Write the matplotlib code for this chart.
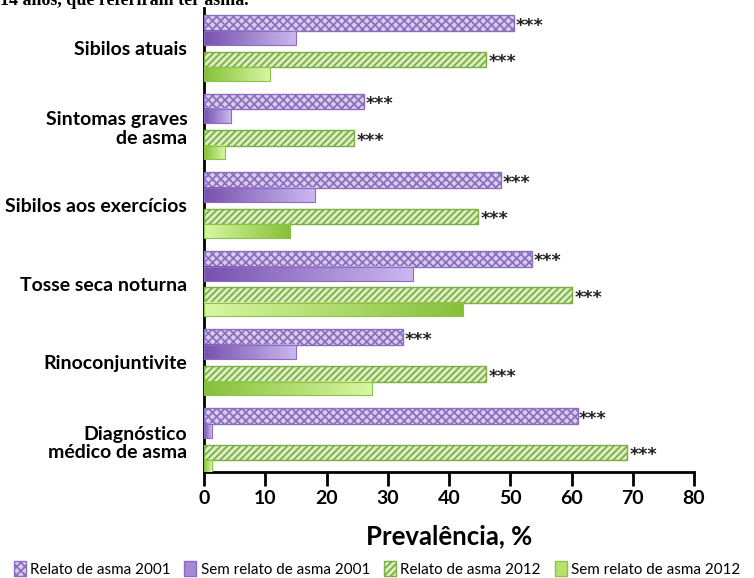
import matplotlib
matplotlib.use('Agg')
import matplotlib.pyplot as plt
import numpy as np
from matplotlib.colors import LinearSegmentedColormap
from matplotlib.patches import Patch

# ---- data ----
categories = ["Sibilos atuais", "Sintomas graves\nde asma", "Sibilos aos exercícios",
              "Tosse seca noturna", "Rinoconjuntivite", "Diagnóstico\nmédico de asma"]
relato_2001 = [50.6, 26.1, 48.5, 53.6, 32.5, 61.0]
sem_relato_2001 = [15.1, 4.4, 18.1, 34.2, 15.1, 1.3]
relato_2012 = [46.0, 24.5, 44.7, 60.1, 46.0, 69.0]
sem_relato_2012 = [10.8, 3.4, 14.0, 42.3, 27.4, 1.3]
sig_2001 = ["***"] * 6
sig_2012 = ["***"] * 6
x_ticks = [0, 10, 20, 30, 40, 50, 60, 70, 80]
series_labels = ["Relato de asma 2001", "Sem relato de asma 2001",
                 "Relato de asma 2012", "Sem relato de asma 2012"]
x_label = "Prevalência, %"
title_text = "14 anos, que referiram ter asma."

# ---- style ----
plt.rcParams['hatch.linewidth'] = 1.3
font = 'Lato'
purple_fill = '#d9cdee'
purple_hatch = '#8d70bd'
green_fill = '#dcefc2'
green_hatch = '#7dad45'
purple_cmap = LinearSegmentedColormap.from_list('p', ['#7652ae', '#ccb8f0'])
green_cmap = LinearSegmentedColormap.from_list('g', ['#86c03a', '#d8f7a2'])
green_dir = [1, 1, -1, -1, 1, 1]  # gradient direction per bar

W, H = 754, 578
fig = plt.figure(figsize=(W / 100, H / 100), dpi=100)
ax = fig.add_axes([204 / W, 1 - 472 / H, 490 / W, 464 / H])

y = np.arange(len(categories))
offsets = [-0.32, -0.13, 0.145, 0.33]
heights = [0.2, 0.18, 0.2, 0.17]

ax.barh(y + offsets[0], relato_2001, height=heights[0], color=purple_fill,
        edgecolor=purple_hatch, hatch='xxxx', linewidth=1.0, zorder=3)
ax.barh(y + offsets[2], relato_2012, height=heights[2], color=green_fill,
        edgecolor=green_hatch, hatch='/////', linewidth=1.0, zorder=3)

grad = np.linspace(0, 1, 256).reshape(1, -1)
b1 = ax.barh(y + offsets[1], sem_relato_2001, height=heights[1], color='none',
             edgecolor='#8a6cc0', linewidth=0.8, zorder=4)
for r in b1:
    x0, y0 = r.get_x(), r.get_y()
    ax.imshow(grad, extent=[x0, x0 + r.get_width(), y0 + r.get_height(), y0],
              aspect='auto', cmap=purple_cmap, zorder=3, interpolation='bilinear')
b2 = ax.barh(y + offsets[3], sem_relato_2012, height=heights[3], color='none',
             edgecolor='#8cc24a', linewidth=0.8, zorder=4)
for r, d in zip(b2, green_dir):
    x0, y0 = r.get_x(), r.get_y()
    g = grad if d > 0 else grad[:, ::-1]
    ax.imshow(g, extent=[x0, x0 + r.get_width(), y0 + r.get_height(), y0],
              aspect='auto', cmap=green_cmap, zorder=3, interpolation='bilinear')

for yi, v, s in zip(y + offsets[0], relato_2001, sig_2001):
    ax.annotate(s, (v, yi), xytext=(1, -2), textcoords='offset points',
                ha='left', va='center', fontsize=12.5, fontweight='bold',
                family='DejaVu Sans', color='#222222', zorder=5)
for yi, v, s in zip(y + offsets[2], relato_2012, sig_2012):
    ax.annotate(s, (v, yi), xytext=(2, -2), textcoords='offset points',
                ha='left', va='center', fontsize=12.5, fontweight='bold',
                family='DejaVu Sans', color='#222222', zorder=5)

ax.set_xlim(0, 80)
ax.set_ylim(5.394, -0.509)
ax.set_xticks(x_ticks)
ax.set_xticklabels([str(t) for t in x_ticks], fontsize=14, fontweight='bold', family=font)
ax.set_yticks(y)
ax.set_yticklabels(categories, fontsize=14, fontweight='bold', family=font,
                   ha='right', linespacing=1.1)
ax.tick_params(axis='y', length=0, pad=12)
ax.tick_params(axis='x', direction='out', length=10, width=2, pad=3, colors='black')
for s in ['top', 'right']:
    ax.spines[s].set_visible(False)
for s in ['left', 'bottom']:
    ax.spines[s].set_linewidth(2)
    ax.spines[s].set_color('black')
ax.spines['bottom'].set_bounds(0, 80)
ax.set_xlabel(x_label, fontsize=18.5, fontweight='bold', family=font, labelpad=12)

handles = [Patch(facecolor=purple_fill, edgecolor=purple_hatch, hatch='xxxx'),
           Patch(facecolor='#a689d8', edgecolor='#8a6cc0'),
           Patch(facecolor=green_fill, edgecolor=green_hatch, hatch='/////'),
           Patch(facecolor='#b7e26e', edgecolor='#8cc24a')]
fig.legend(handles, series_labels, loc='center', bbox_to_anchor=(0.5, 1 - 569 / H),
           ncol=4, frameon=False, prop={'family': font, 'size': 10.9},
           handlelength=0.8, handleheight=1.1, handletextpad=0.3, columnspacing=0.9,
           borderpad=0.2)

fig.text(0.0, 1 - 5 / H, title_text, ha='left', va='baseline', fontsize=13,
         fontweight='bold', family='Liberation Serif')

fig.savefig('out.png', dpi=100)
